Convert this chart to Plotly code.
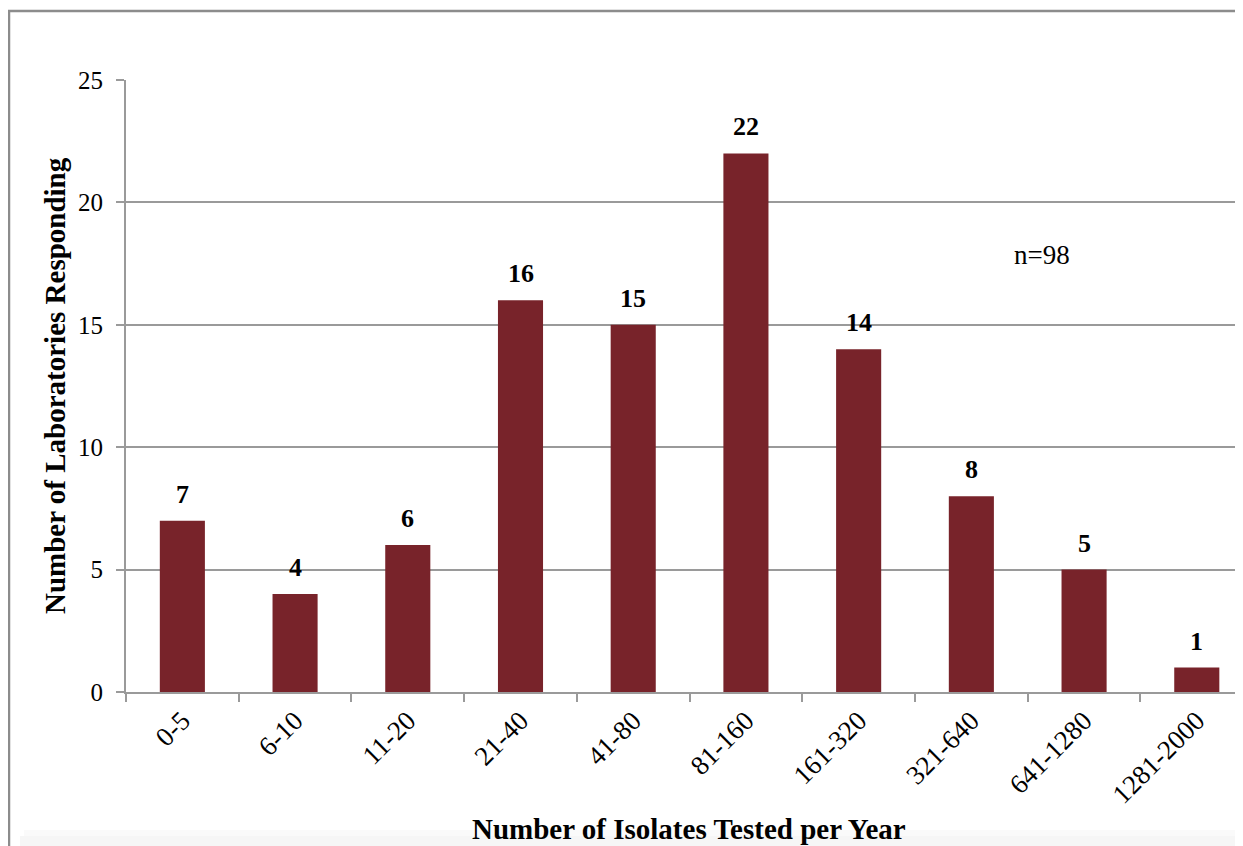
import plotly.graph_objects as go

categories = ["0-5", "6-10", "11-20", "21-40", "41-80", "81-160",
              "161-320", "321-640", "641-1280", "1281-2000"]
counts = [7, 4, 6, 16, 15, 22, 14, 8, 5, 1]
y_ticks = [0, 5, 10, 15, 20, 25]
x_title = "Number of Isolates Tested per Year"
y_title = "Number of Laboratories Responding"
note = "n=98"

# page body adds an 8px offset; compensate so the picture lines up
OFF = 8
W, H = 1243 - OFF, 846 - OFF
ML, MR, MT, MB = 126 - OFF, 0, 80 - OFF, 154
PW = W - ML - MR
PH = H - MT - MB

def px_x(px):
    return (px - OFF - ML) / PW

def px_y(py):
    return (H - MB - (py - OFF)) / PH

FONT = "Liberation Serif, Times New Roman, serif"
GRID = "#9a9a9a"

fig = go.Figure()
fig.add_trace(go.Bar(
    x=categories, y=counts,
    marker=dict(color="#78232A", line=dict(width=0)),
    hoverinfo="x+y",
))

annotations = []
for c, v in zip(categories, counts):
    annotations.append(dict(
        x=c, y=v, xref="x", yref="y", text=f"<b>{v}</b>", showarrow=False,
        yanchor="bottom", yshift=10, font=dict(family=FONT, size=26, color="black"),
    ))
annotations.append(dict(
    x=px_x(1042), y=px_y(255), xref="paper", yref="paper", text=note,
    showarrow=False, xanchor="center", yanchor="middle",
    font=dict(family=FONT, size=27, color="black"),
))
annotations.append(dict(
    x=px_x(689), y=px_y(829), xref="paper", yref="paper", text=f"<b>{x_title}</b>",
    showarrow=False, xanchor="center", yanchor="middle",
    font=dict(family=FONT, size=29, color="black"),
))
annotations.append(dict(
    x=px_x(55), y=px_y(386), xref="paper", yref="paper", text=f"<b>{y_title}</b>",
    showarrow=False, xanchor="center", yanchor="middle", textangle=-90,
    font=dict(family=FONT, size=29, color="black"),
))

shapes = [
    # faint shadow at the bottom
    dict(type="rect", xref="paper", yref="paper",
         x0=px_x(20), x1=px_x(1260), y0=px_y(836), y1=px_y(860),
         fillcolor="rgba(0,0,0,0.035)", line=dict(width=0), layer="below"),
    dict(type="rect", xref="paper", yref="paper",
         x0=px_x(24), x1=px_x(1260), y0=px_y(830), y1=px_y(836),
         fillcolor="rgba(0,0,0,0.018)", line=dict(width=0), layer="below"),
    # outer chart border (left, top; right cut off)
    dict(type="path", xref="paper", yref="paper",
         path=f"M {px_x(9)},{px_y(870)} L {px_x(9)},{px_y(11)} L {px_x(1260)},{px_y(11)}",
         line=dict(color="#8c8c8c", width=2.5), layer="below"),
]

fig.update_layout(
    width=W, height=H,
    margin=dict(l=ML, r=MR, t=MT, b=MB, pad=0),
    paper_bgcolor="white", plot_bgcolor="white",
    bargap=0.6, showlegend=False,
    font=dict(family=FONT, size=25, color="black"),
    annotations=annotations, shapes=shapes,
    xaxis=dict(
        type="category", range=[-0.5, 9.41],
        tickangle=-45, tickson="boundaries",
        ticks="outside", ticklen=8, tickcolor=GRID, tickwidth=2,
        showline=True, linecolor=GRID, linewidth=2,
        showgrid=False, tickfont=dict(family=FONT, size=27, color="black"),
        automargin=False,
    ),
    yaxis=dict(
        range=[0, 25], tickvals=y_ticks,
        ticks="outside", ticklen=8, tickcolor=GRID, tickwidth=2,
        showline=True, linecolor=GRID, linewidth=2,
        showgrid=True, gridcolor=GRID, gridwidth=2,
        zeroline=False, ticklabelstandoff=8,
        tickfont=dict(family=FONT, size=25, color="black"),
        automargin=False,
    ),
)

fig.write_html("out.html")
